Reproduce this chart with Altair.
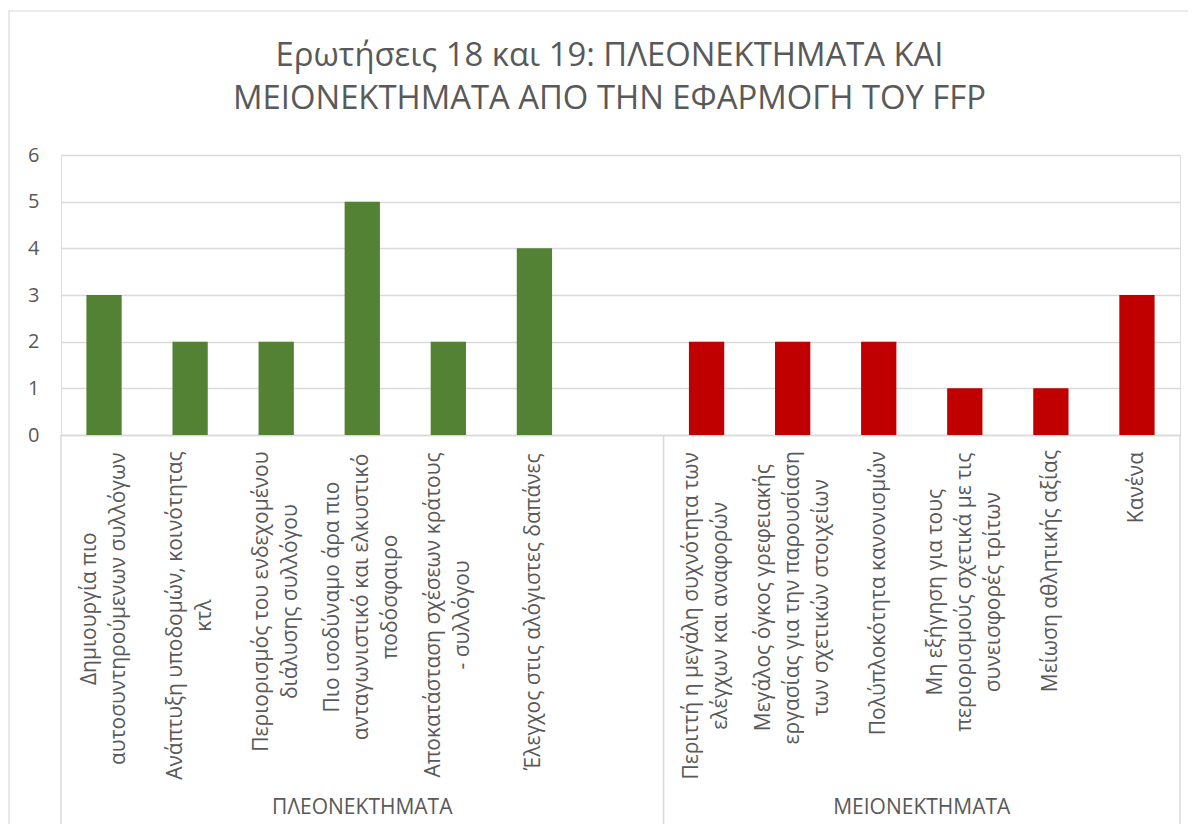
import altair as alt
import pandas as pd

# ---------------- data ----------------
title_lines = ["Ερωτήσεις 18 και 19: ΠΛΕΟΝΕΚΤΗΜΑΤΑ ΚΑΙ",
               "ΜΕΙΟΝΕΚΤΗΜΑΤΑ ΑΠΟ ΤΗΝ ΕΦΑΡΜΟΓΗ ΤΟΥ FFP"]
groups = ["ΠΛΕΟΝΕΚΤΗΜΑΤΑ", "ΜΕΙΟΝΕΚΤΗΜΑΤΑ"]

adv_labels = [
    "Δημιουργία πιο\nαυτοσυντηρούμενων συλλόγων",
    "Ανάπτυξη υποδομών, κοινότητας\nκτλ",
    "Περιορισμός του ενδεχομένου\nδιάλυσης συλλόγου",
    "Πιο ισοδύναμο άρα πιο\nανταγωνιστικό και ελκυστικό\nποδόσφαιρο",
    "Αποκατάσταση σχέσεων κράτους\n- συλλόγου",
    "Έλεγχος στις αλόγιστες δαπάνες",
]
adv_values = [3, 2, 2, 5, 2, 4]

dis_labels = [
    "Περιττή η μεγάλη συχνότητα των\nελέγχων και αναφορών",
    "Μεγάλος όγκος γρεφειακής\nεργασίας για την παρουσίαση\nτων σχετικών στοιχείων",
    "Πολύπλοκότητα κανονισμών",
    "Μη εξήγηση για τους\nπεριορισμούς σχετικά με τις\nσυνεισφορές τρίτων",
    "Μείωση αθλητικής αξίας",
    "Κανένα",
]
dis_values = [2, 2, 2, 1, 1, 3]

y_ticks = [0, 1, 2, 3, 4, 5, 6]
group_colors = ["#548235", "#C00000"]

# ---------------- styling / layout helpers ----------------
W, H = 1119, 280
FONT = "Open Sans"
TXT = "#595959"
GRID = "#D9D9D9"
LABEL_SIZE = 21
LINE_H = 29
LABEL_TOP = 297  # label block starts this far below the plot top
PAD_INNER = 0.59
PAD_OUTER = PAD_INNER / 2

_narrow = {" ": 0.26, "ι": 0.34, "ί": 0.34, "ϊ": 0.34, ",": 0.25, "-": 0.32,
           "τ": 0.5, "ς": 0.5, "ε": 0.49, "έ": 0.49, "ξ": 0.47, "ζ": 0.47,
           "γ": 0.53, "ν": 0.53, "κ": 0.55, "λ": 0.55, "χ": 0.55}
_wide = {"ω": 0.8, "ώ": 0.8, "φ": 0.78, "ψ": 0.78, "μ": 0.62}


def est_width(line):
    w = 0.0
    for ch in line:
        if ch in _narrow:
            w += _narrow[ch]
        elif ch in _wide:
            w += _wide[ch]
        elif ch.isupper():
            w += 0.64
        else:
            w += 0.6
    return w * LABEL_SIZE


# ---------------- tables ----------------
adv_slots = [f"A{i+1}" for i in range(len(adv_labels))]
blank_slot = ["A_blank"]  # empty category slot in the first group
dis_slots = [f"B{i+1}" for i in range(len(dis_labels))]
slot_domain = adv_slots + blank_slot + dis_slots
n_slots = len(slot_domain)

step = W / (n_slots - PAD_INNER + 2 * PAD_OUTER)
bandwidth = step * (1 - PAD_INNER)

rows = []
for s, lab, v in zip(adv_slots, adv_labels, adv_values):
    rows.append({"slot": s, "label": lab, "value": v, "group": groups[0]})
for s, lab, v in zip(dis_slots, dis_labels, dis_values):
    rows.append({"slot": s, "label": lab, "value": v, "group": groups[1]})
df = pd.DataFrame(rows)
df["nlines"] = df["label"].apply(lambda t: len(t.split("\n")))
df["blockw"] = df["label"].apply(lambda t: max(est_width(x) for x in t.split("\n")))
df["ypix"] = LABEL_TOP + df["blockw"] / 2
# centre the (rotated) block of lines on the band centre
df["xoff"] = bandwidth / 2 - (df["nlines"] - 1) * LINE_H / 2

n_adv = len(adv_slots) + 1
bounds = pd.DataFrame({"pos": [0, n_adv, n_slots]})
gdf = pd.DataFrame({"group": groups,
                    "center": [n_adv / 2, (n_adv + n_slots) / 2]})
tdf = pd.DataFrame({"title": ["\n".join(title_lines)]})

xband = alt.Scale(domain=slot_domain, paddingInner=PAD_INNER, paddingOuter=PAD_OUTER)
xlin = alt.Scale(domain=[0, n_slots], nice=False, zero=False)

bars = alt.Chart(df).mark_bar().encode(
    x=alt.X("slot:N", scale=xband,
            axis=alt.Axis(labels=False, ticks=False, title=None,
                          domainColor=GRID, domainWidth=1.5, grid=False)),
    y=alt.Y("value:Q", scale=alt.Scale(domain=[0, 6], nice=False),
            axis=alt.Axis(values=y_ticks, title=None, ticks=False, domain=False,
                          grid=True, gridColor=GRID, gridWidth=1.5,
                          labelFont=FONT, labelFontSize=20, labelColor=TXT,
                          labelPadding=22)),
    color=alt.Color("group:N", scale=alt.Scale(domain=groups, range=group_colors),
                    legend=None),
)

cat_labels = alt.Chart(df).mark_text(
    angle=270, align="center", baseline="middle", lineBreak="\n",
    lineHeight=LINE_H, font=FONT, fontSize=LABEL_SIZE, color=TXT
).encode(
    x=alt.X("slot:N", scale=xband, axis=None),
    xOffset=alt.XOffset("xoff:Q", scale=None),
    y=alt.Y("ypix:Q", scale=None),
    text="label:N",
)

dividers = alt.Chart(bounds).mark_rule(color=GRID, strokeWidth=1.5).encode(
    x=alt.X("pos:Q", scale=xlin, axis=None),
    y=alt.value(H),
    y2=alt.value(H + 389),
)

group_labels = alt.Chart(gdf).mark_text(
    font=FONT, fontSize=21, color=TXT, baseline="middle", align="center"
).encode(
    x=alt.X("center:Q", scale=xlin, axis=None),
    y=alt.value(H + 373),
    text="group:N",
)

title = alt.Chart(tdf).mark_text(
    font=FONT, fontSize=32.8, color=TXT, baseline="alphabetic", align="center",
    lineBreak="\n", lineHeight=43
).encode(
    x=alt.value(W / 2 - 11),
    y=alt.value(-89),
    text="title:N",
)

frame = alt.Chart(pd.DataFrame({"k": [0]})).mark_rect(
    fillOpacity=0, stroke=GRID, strokeWidth=1.2
).encode(
    x=alt.value(-52), x2=alt.value(W + 60),
    y=alt.value(-144), y2=alt.value(H + 450),
)

chart = alt.layer(frame, bars, cat_labels, dividers, group_labels, title).resolve_scale(
    x="independent"
).properties(
    width=W, height=H,
    autosize=alt.AutoSizeParams(type="none"),
    padding={"left": 53, "top": 147, "right": 8, "bottom": 389},
).configure_view(stroke=None).configure(background="white")

chart.save("out.html", embed_options={"renderer": "svg", "actions": False})
